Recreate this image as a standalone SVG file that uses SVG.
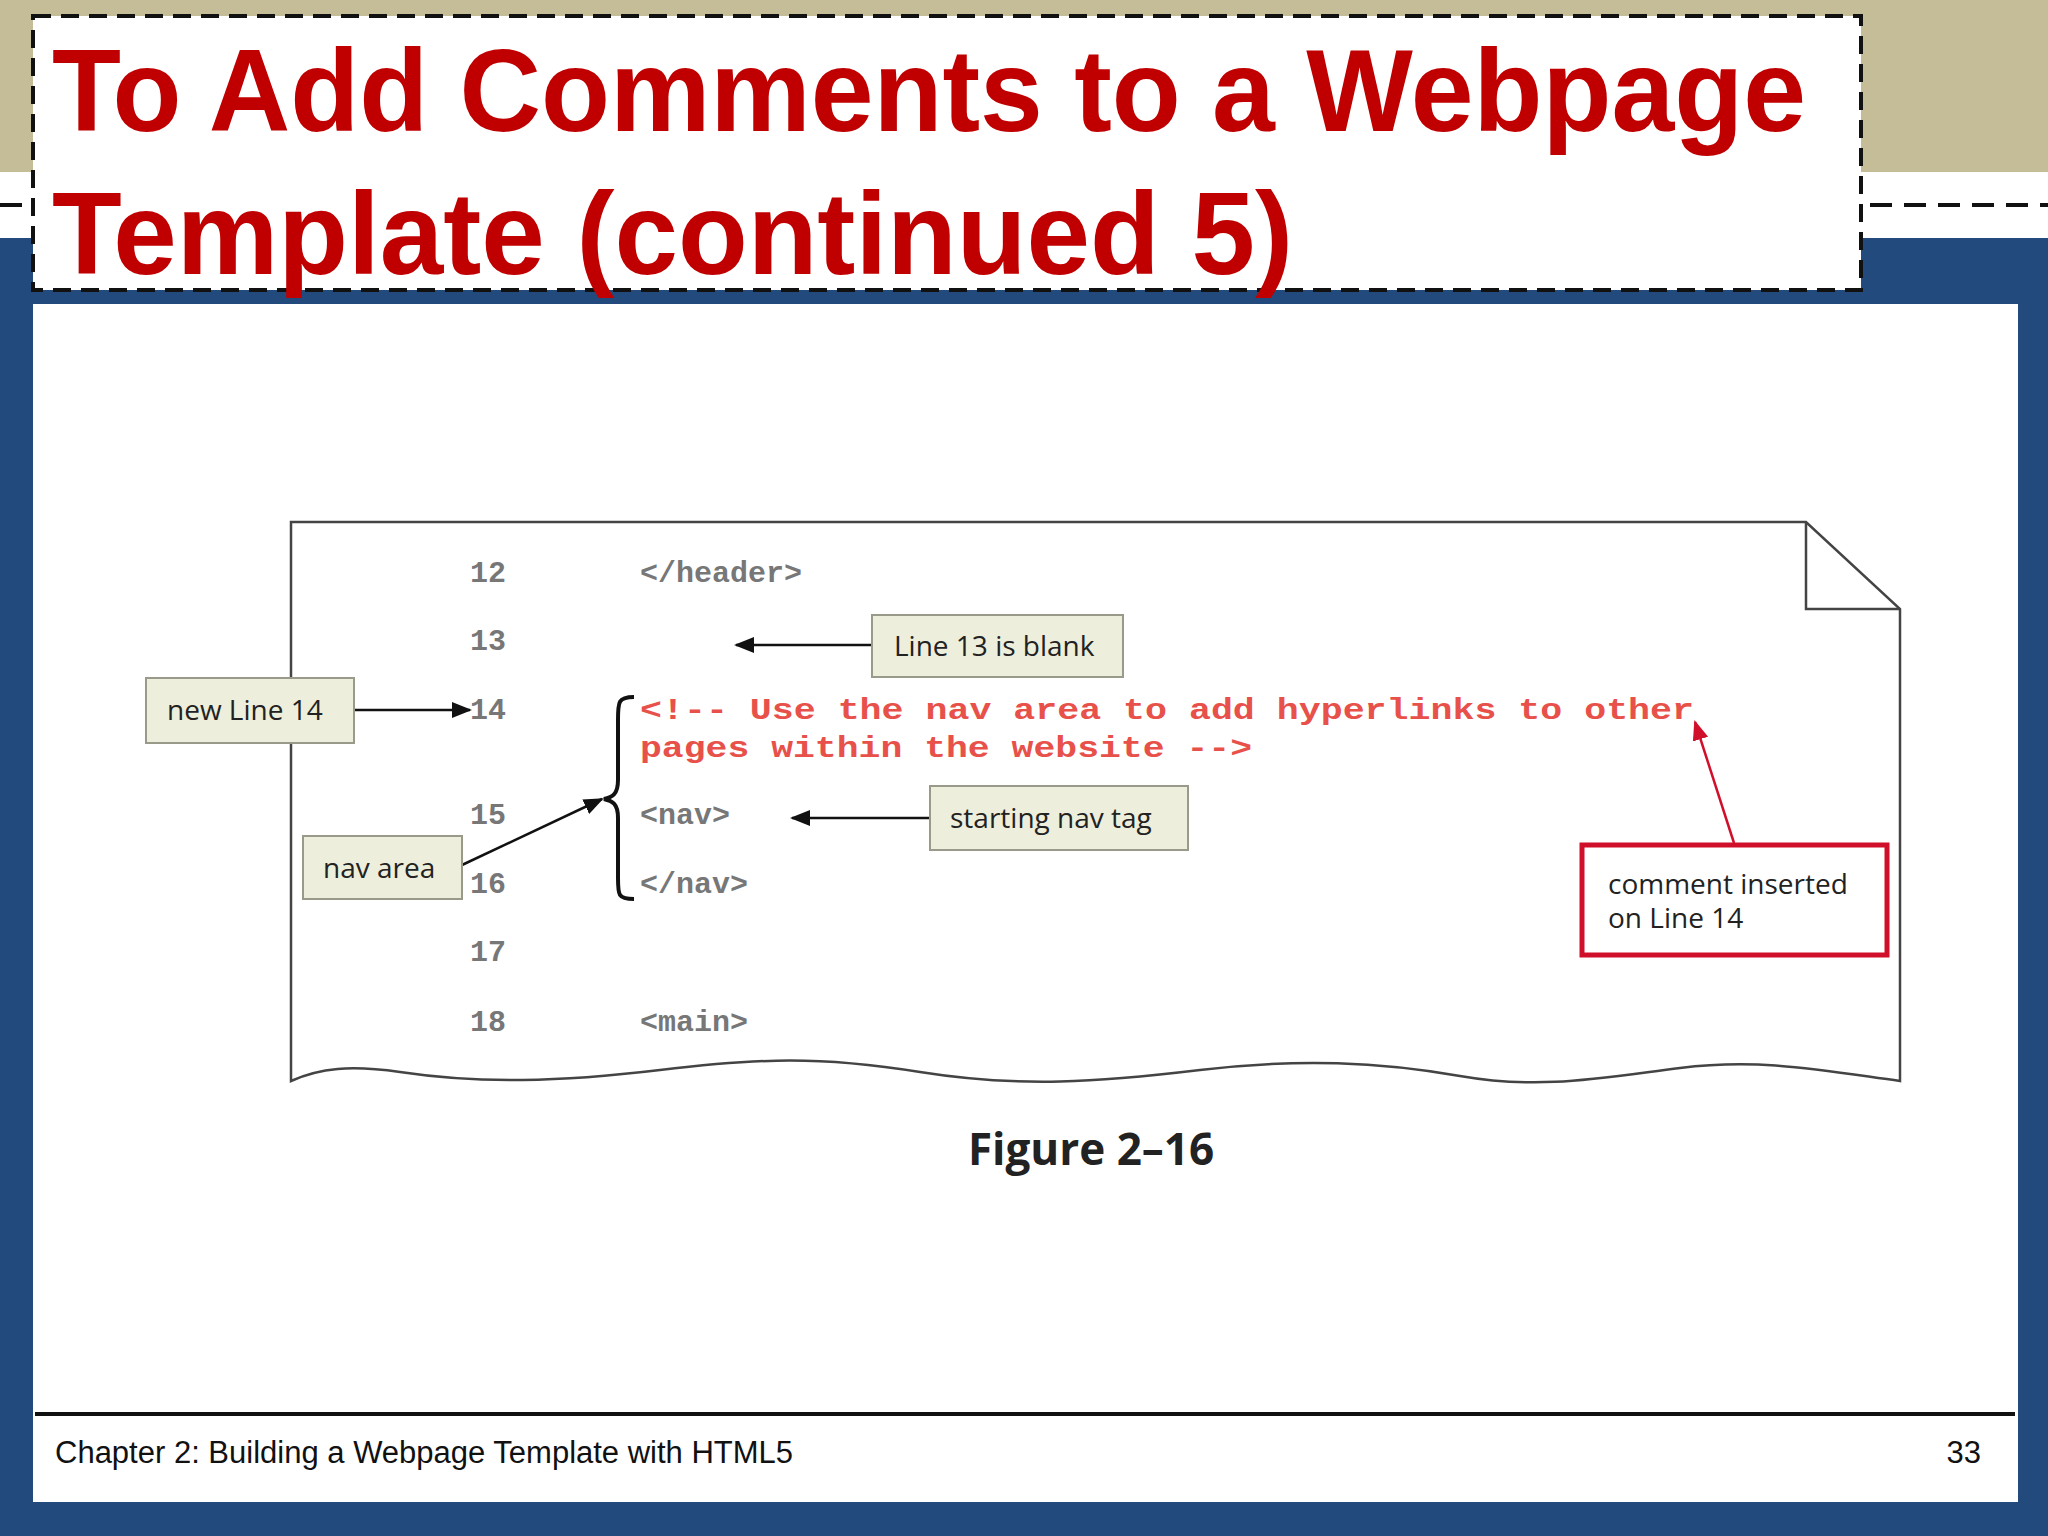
<svg xmlns="http://www.w3.org/2000/svg" width="2048" height="1536" viewBox="0 0 2048 1536">
<defs>
<style>
.call{fill:#eeeedc;stroke:#9a9a8a;stroke-width:2}
.ct{font-family:"Open Sans","Liberation Sans",sans-serif;font-size:28px;fill:#222}
.ln{font-family:"Liberation Mono",monospace;font-weight:bold;font-size:30px;fill:#777}
.code{font-family:"Liberation Mono",monospace;font-weight:bold;font-size:30px;fill:#777}
.red{font-family:"Liberation Mono",monospace;font-weight:bold;font-size:30px;fill:#e8504a}
.title{font-family:"Liberation Sans",Arial,sans-serif;font-weight:bold;font-size:116px;fill:#c00000}
</style>
<marker id="ah" viewBox="0 0 10 10" refX="9" refY="5" markerWidth="8" markerHeight="8" orient="auto"><path d="M0,1 L10,5 L0,9 z" fill="#111"/></marker>
<marker id="ahr" viewBox="0 0 10 10" refX="9" refY="5" markerWidth="8" markerHeight="8" orient="auto"><path d="M0,1 L10,5 L0,9 z" fill="#d0102a"/></marker>
</defs>
<rect width="2048" height="1536" fill="#234a7c"/>
<rect width="2048" height="172" fill="#c4bd97"/>
<rect y="172" width="2048" height="66" fill="#fff"/>
<line x1="0" y1="205" x2="2048" y2="205" stroke="#111" stroke-width="4" stroke-dasharray="22,12"/>
<g id="title">
<rect x="33" y="16" width="1828" height="274" fill="#fff" stroke="#111" stroke-width="4" stroke-dasharray="18,10"/>
<text class="title" x="52" y="131" textLength="1754" lengthAdjust="spacingAndGlyphs">To Add Comments to a Webpage</text>
<text class="title" x="52" y="274" textLength="1241" lengthAdjust="spacingAndGlyphs">Template (continued 5)</text>
</g>
<rect x="33" y="304" width="1985" height="1198" fill="#fff"/>
<line x1="35" y1="1414" x2="2015" y2="1414" stroke="#111" stroke-width="4"/>
<text x="55" y="1463" font-family="Liberation Sans,Arial,sans-serif" font-size="31" fill="#111">Chapter 2: Building a Webpage Template with HTML5</text>
<text x="1981" y="1463" text-anchor="end" font-family="Liberation Sans,Arial,sans-serif" font-size="31" fill="#111">33</text>
<g id="page">
<path d="M291,522 L1806,522 L1900,609 L1900,1081 C1820,1070 1760,1058 1680,1068 C1600,1078 1540,1090 1460,1076 C1380,1062 1300,1058 1200,1070 C1100,1082 1020,1088 920,1072 C820,1056 760,1058 660,1070 C560,1082 480,1084 400,1072 C350,1065 320,1068 291,1081 Z" fill="#fff" stroke="#444" stroke-width="2.5"/>
<path d="M1806,522 L1806,609 L1900,609" fill="none" stroke="#444" stroke-width="2.5"/>
<text class="ln" x="470" y="582">12</text>
<text class="ln" x="470" y="650">13</text>
<text class="ln" x="470" y="719">14</text>
<text class="ln" x="470" y="824">15</text>
<text class="ln" x="470" y="893">16</text>
<text class="ln" x="470" y="961">17</text>
<text class="ln" x="470" y="1031">18</text>
<text class="code" x="640" y="582">&lt;/header&gt;</text>
<text class="red" x="640" y="719" textLength="1054" lengthAdjust="spacingAndGlyphs">&lt;!-- Use the nav area to add hyperlinks to other</text>
<text class="red" x="640" y="757" textLength="612" lengthAdjust="spacingAndGlyphs">pages within the website --&gt;</text>
<text class="code" x="640" y="824">&lt;nav&gt;</text>
<text class="code" x="640" y="893">&lt;/nav&gt;</text>
<text class="code" x="640" y="1031">&lt;main&gt;</text>
<path d="M634,697 C618,697 618,702 618,720 L618,780 C618,795 612,797 604,799 C612,801 618,803 618,818 L618,878 C618,895 618,899 634,899" fill="none" stroke="#111" stroke-width="4"/>
</g>
<g id="connectors" stroke="#111" stroke-width="2.5" fill="none">
<line x1="872" y1="645" x2="736" y2="645" marker-end="url(#ah)"/>
<line x1="354" y1="710" x2="470" y2="710" marker-end="url(#ah)"/>
<line x1="462" y1="865" x2="602" y2="799" marker-end="url(#ah)"/>
<line x1="930" y1="818" x2="792" y2="818" marker-end="url(#ah)"/>
<line x1="1734" y1="843" x2="1695" y2="722" stroke="#d0102a" marker-end="url(#ahr)"/>
</g>
<g id="c-line13"><rect class="call" x="872" y="615" width="251" height="62"/><text class="ct" x="894" y="656">Line 13 is blank</text></g>
<g id="c-line14"><rect class="call" x="146" y="678" width="208" height="65"/><text class="ct" x="167" y="720">new Line 14</text></g>
<g id="c-nav"><rect class="call" x="303" y="836" width="159" height="63"/><text class="ct" x="323" y="878">nav area</text></g>
<g id="c-start"><rect class="call" x="930" y="786" width="258" height="64"/><text class="ct" x="950" y="828">starting nav tag</text></g>
<g id="c-comment"><rect x="1582" y="845" width="305" height="110" fill="#fff" stroke="#d0102a" stroke-width="5"/><text class="ct" x="1608" y="894">comment inserted</text><text class="ct" x="1608" y="928">on Line 14</text></g>
<text x="1091" y="1165" text-anchor="middle" font-family="Open Sans,Liberation Sans,sans-serif" font-weight="bold" font-size="44" fill="#222">Figure 2–16</text>
</svg>
